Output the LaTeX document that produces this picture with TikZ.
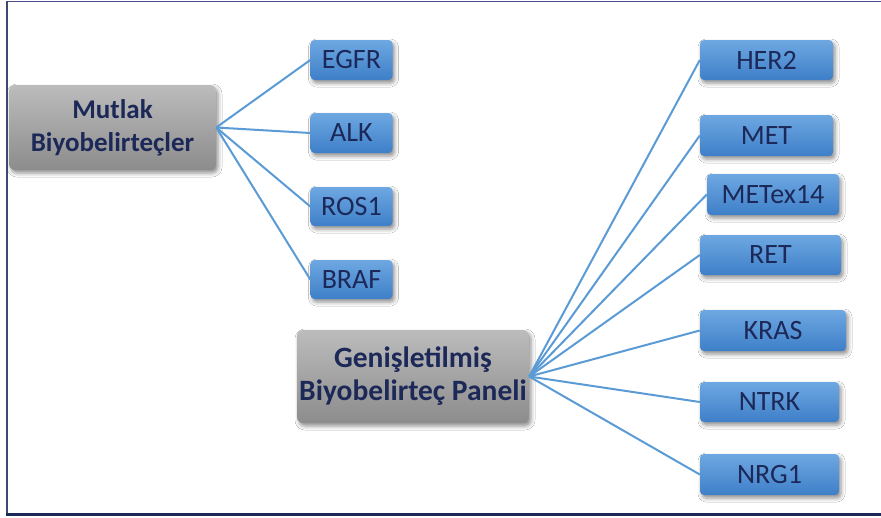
\documentclass[tikz,border=0pt]{standalone}
\usepackage{fontspec}
\setmainfont{Carlito}
\usetikzlibrary{shadows.blur}
\definecolor{txt}{HTML}{1C2858}
\definecolor{lnk}{HTML}{5B9BD5}
\definecolor{btop}{HTML}{6EA8E2}
\definecolor{bbot}{HTML}{3E7FC8}
\definecolor{gtop}{HTML}{BCBCBC}
\definecolor{gbot}{HTML}{8C8C8C}
\tikzset{
  gene/.style={rounded corners=4pt, top color=btop, bottom color=bbot, draw=none,
    text=txt, font=\fontsize{28}{30}\selectfont, inner sep=0pt,
    blur shadow={shadow xshift=2pt, shadow yshift=-3pt, shadow blur radius=4pt, shadow opacity=45}},
  group/.style={rounded corners=6pt, top color=gtop, bottom color=gbot, draw=none,
    text=txt, font=\bfseries\fontsize{27}{33}\selectfont, align=center, inner sep=0pt,
    blur shadow={shadow xshift=2pt, shadow yshift=-3pt, shadow blur radius=4pt, shadow opacity=45}},
  link/.style={draw=lnk, line width=2pt},
}
\begin{document}
\begin{tikzpicture}[x=1pt,y=-1pt]
\useasboundingbox (0,0) rectangle (881,517);
\draw[draw=white, fill=white] (0,0) rectangle (881,517);
% frame
\draw[color=black!40!blue!40!gray, line width=1.5pt] (7,1.5) -- (881,1.5);
\draw[color=txt!85, line width=2pt] (7,1) -- (7,514.5);
\draw[color=txt, line width=2.2pt] (6,514.5) -- (881,514.5);
% nodes
\node[group, minimum width=207pt, minimum height=85pt] (mut) at (112.5,127.5) {Mutlak\\Biyobelirteçler};
\node[gene, minimum width=82pt, minimum height=40pt] (egfr) at (351.5,60) {EGFR};
\node[gene, minimum width=82pt, minimum height=40pt] (alk) at (351.5,133) {ALK};
\node[gene, minimum width=82pt, minimum height=39pt] (ros) at (351.5,206.5) {ROS1};
\node[gene, minimum width=82pt, minimum height=39pt] (braf) at (351.5,279.5) {BRAF};
\node[group, minimum width=232pt, minimum height=93pt, font=\bfseries\fontsize{29.5}{33}\selectfont] (gen) at (413,376.5) {Genişletilmiş\\Biyobelirteç Paneli};
\node[gene, minimum width=133pt, minimum height=40pt] (her) at (766.5,60) {HER2};
\node[gene, minimum width=133pt, minimum height=41pt] (met) at (766.5,135.5) {MET};
\node[gene, minimum width=132pt, minimum height=41pt] (metex) at (773,194.5) {METex14};
\node[gene, minimum width=141pt, minimum height=40pt] (ret) at (770.5,255) {RET};
\node[gene, minimum width=146pt, minimum height=41pt] (kras) at (773,330.5) {KRAS};
\node[gene, minimum width=139pt, minimum height=40pt] (ntrk) at (769.5,402) {NTRK};
\node[gene, minimum width=139pt, minimum height=41pt] (nrg) at (769.5,474.5) {NRG1};
% links
\foreach \t in {egfr,alk,ros,braf} \draw[link] (mut.east) -- (\t.west);
\foreach \t in {her,met,metex,ret,kras,ntrk,nrg} \draw[link] (gen.east) -- (\t.west);
\end{tikzpicture}
\end{document}
